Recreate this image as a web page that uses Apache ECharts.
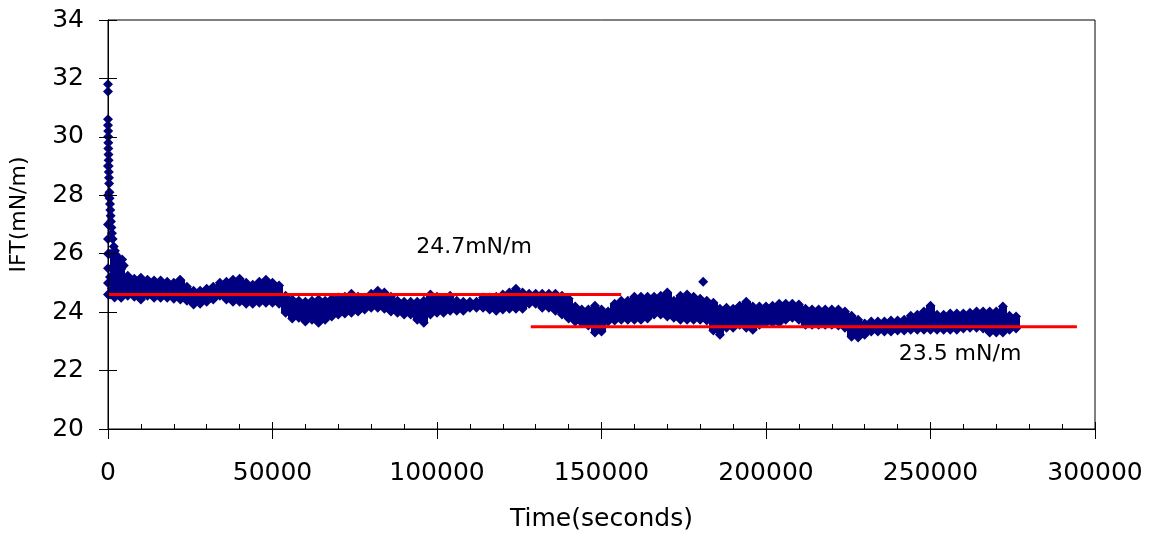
<!DOCTYPE html>
<html><head><meta charset="utf-8">
<script src="https://cdn.jsdelivr.net/npm/echarts@6/dist/echarts.min.js"></script>
<style>html,body{margin:0;padding:0;background:#fff}#c{width:1151px;height:537px}</style>
</head><body><div id="c"></div>
<script>
// ---- data ----
const timeSec = [2000,4000,6000,8000,10000,12000,14000,16000,18000,20000,
22000,24000,26000,28000,30000,32000,34000,36000,38000,40000,
42000,44000,46000,48000,50000,52000,54000,56000,58000,60000,
62000,64000,66000,68000,70000,72000,74000,76000,78000,80000,
82000,84000,86000,88000,90000,92000,94000,96000,98000,100000,
102000,104000,106000,108000,110000,112000,114000,116000,118000,120000,
122000,124000,126000,128000,130000,132000,134000,136000,138000,140000,
142000,144000,146000,148000,150000,152000,154000,156000,158000,160000,
162000,164000,166000,168000,170000,172000,174000,176000,178000,180000,
182000,184000,186000,188000,190000,192000,194000,196000,198000,200000,
202000,204000,206000,208000,210000,212000,214000,216000,218000,220000,
222000,224000,226000,228000,230000,232000,234000,236000,238000,240000,
242000,244000,246000,248000,250000,252000,254000,256000,258000,260000,
262000,264000,266000,268000,270000,272000,274000,276000];
const upperIFT = [26.00,25.48,25.25,25.14,25.18,25.11,25.08,25.08,25.04,25.01,
25.08,24.87,24.73,24.73,24.80,24.87,25.01,25.04,25.11,25.14,
25.01,24.94,25.04,25.11,25.01,24.91,24.56,24.43,24.39,24.36,
24.39,24.43,24.39,24.46,24.50,24.53,24.63,24.53,24.46,24.63,
24.73,24.67,24.53,24.39,24.36,24.36,24.36,24.39,24.60,24.53,
24.46,24.56,24.39,24.36,24.36,24.36,24.50,24.50,24.53,24.60,
24.67,24.80,24.67,24.63,24.63,24.63,24.63,24.63,24.56,24.46,
24.19,24.09,24.09,24.22,24.09,24.02,24.29,24.39,24.39,24.53,
24.53,24.53,24.53,24.56,24.67,24.39,24.56,24.60,24.53,24.46,
24.39,24.32,24.12,24.15,24.12,24.22,24.36,24.19,24.19,24.19,
24.22,24.29,24.29,24.29,24.26,24.12,24.09,24.09,24.09,24.09,
24.09,24.02,23.88,23.74,23.61,23.68,23.68,23.68,23.71,23.71,
23.74,23.88,23.91,24.02,24.22,23.91,23.91,23.95,23.95,23.95,
23.98,24.02,24.02,24.02,24.02,24.19,23.88,23.85];
const lowerIFT = [24.50,24.49,24.56,24.53,24.43,24.56,24.49,24.49,24.49,24.46,
24.43,24.39,24.26,24.29,24.36,24.43,24.56,24.43,24.36,24.36,
24.29,24.29,24.32,24.32,24.32,24.29,23.98,23.78,23.81,23.68,
23.74,23.64,23.74,23.85,23.92,23.95,23.98,24.02,24.09,24.15,
24.15,24.12,24.02,23.98,23.92,23.92,23.74,23.64,23.92,23.98,
23.98,24.05,24.05,24.05,24.15,24.15,24.15,24.09,24.05,24.09,
24.12,24.12,24.12,24.29,24.29,24.15,24.15,24.05,23.92,23.78,
23.68,23.64,23.54,23.30,23.34,23.68,23.71,23.74,23.74,23.74,
23.74,23.78,23.92,23.92,23.85,23.81,23.74,23.74,23.74,23.74,
23.71,23.37,23.23,23.47,23.47,23.57,23.47,23.40,23.57,23.64,
23.64,23.64,23.74,23.81,23.74,23.57,23.57,23.57,23.57,23.57,
23.54,23.47,23.16,23.13,23.23,23.34,23.34,23.34,23.34,23.37,
23.37,23.40,23.40,23.40,23.40,23.40,23.40,23.40,23.40,23.44,
23.47,23.47,23.44,23.30,23.30,23.30,23.40,23.44];
// early fast decay (first seconds of the measurement)
const spikeTime = [0,0,0,0,50,50,100,100,150,200,200,250,300,350,450,500,600,700,800,900,
1050,1200,1400,1750,2100,2500,3000,3500,4300,4800,
0,0,0,0,0,0,0,0,600,600,600,1200,1200];
const spikeIFT = [31.80,31.55,30.60,30.40,30.20,30.00,29.80,29.60,29.40,29.20,29.00,28.80,28.60,28.40,28.10,27.90,27.70,27.50,27.30,27.10,
26.90,26.70,26.50,26.25,26.10,25.95,25.85,25.75,25.80,25.60,
29.00,28.00,27.00,26.50,26.00,25.50,25.00,24.60,26.00,25.20,24.60,25.50,24.80];
const outlierTime = [21900, 180900];
const outlierIFT = [25.11, 25.04];
// red average lines
const fit1Time = [0, 156000];
const fit1IFT = [24.6, 24.6];
const fit2Time = [128500, 294500];
const fit2IFT = [23.5, 23.5];
const fit1Label = '24.7mN/m';
const fit2Label = '23.5 mN/m';
// axes
const xTickValues = [0, 50000, 100000, 150000, 200000, 250000, 300000];
const yTickValues = [20, 22, 24, 26, 28, 30, 32, 34];

const pairs = (xs, ys) => xs.map((x, i) => [x, ys[i]]);
const NAVY = '#000080';
const FONT = '"DejaVu Sans", sans-serif';

const chart = echarts.init(document.getElementById('c'), null, {renderer: 'canvas'});
const axisCommon = {
  type: 'value', gridIndex: 0,
  axisLine: {show: true, lineStyle: {color: '#000', width: 1}},
  splitLine: {show: false}, z: 10
};
const dotStyle = {color: NAVY, opacity: 1, borderWidth: 0};
const dots = (data) => ({type: 'scatter', z: 4, symbol: 'diamond', symbolSize: 10,
  itemStyle: dotStyle, emphasis: {disabled: true}, silent: true, data: data});
chart.setOption({
  animation: false,
  backgroundColor: '#fff',
  grid: {left: 108, top: 20, right: 56, bottom: 107, show: true, borderColor: '#000', borderWidth: 1},
  xAxis: [
    Object.assign({}, axisCommon, {
      min: xTickValues[0], max: xTickValues[xTickValues.length - 1], interval: 50000,
      axisTick: {show: true, inside: false, length: 10, lineStyle: {color: '#000'}},
      axisLabel: {fontFamily: FONT, fontSize: 25, color: '#000', margin: 32,
        formatter: v => (xTickValues.indexOf(v) >= 0 ? String(v) : '')},
      name: 'Time(seconds)', nameLocation: 'middle', nameGap: 78,
      nameTextStyle: {fontFamily: FONT, fontSize: 25, color: '#000'}
    }),
    Object.assign({}, axisCommon, {
      position: 'bottom',
      min: xTickValues[0], max: xTickValues[xTickValues.length - 1], interval: 50000,
      axisTick: {show: true, inside: true, length: 7, lineStyle: {color: '#000'}},
      minorTick: {show: true, splitNumber: 5, length: 5, lineStyle: {color: '#000'}},
      axisLabel: {show: false}
    })
  ],
  yAxis: [
    Object.assign({}, axisCommon, {
      min: yTickValues[0], max: yTickValues[yTickValues.length - 1], interval: 2,
      axisTick: {show: true, inside: false, length: 9, lineStyle: {color: '#000'}},
      axisLabel: {fontFamily: FONT, fontSize: 25, color: '#000', margin: 24,
        formatter: v => (yTickValues.indexOf(v) >= 0 ? String(v) : '')},
      name: 'IFT(mN/m)', nameLocation: 'middle', nameGap: 78,
      nameTextStyle: {fontFamily: FONT, fontSize: 22, color: '#000', padding: [0, 0, 0, 20]}
    }),
    Object.assign({}, axisCommon, {
      position: 'left',
      min: yTickValues[0], max: yTickValues[yTickValues.length - 1], interval: 2,
      axisTick: {show: true, inside: true, length: 9, lineStyle: {color: '#000'}},
      axisLabel: {show: false}
    })
  ],
  series: [
    // solid body of the dense point cloud: one narrow column per sample time,
    // spanning from the lower envelope to the upper envelope
    {type: 'candlestick', z: 2, silent: true, barWidth: 8,
     encode: {x: 0, y: [1, 2, 3, 4]},
     itemStyle: {color: NAVY, color0: NAVY, borderColor: NAVY, borderColor0: NAVY, borderWidth: 1},
     emphasis: {disabled: true},
     data: timeSec.map((t, i) => [t, lowerIFT[i], upperIFT[i], lowerIFT[i], upperIFT[i]])},
    dots(pairs(timeSec, upperIFT)),
    dots(pairs(timeSec, lowerIFT)),
    dots(pairs(spikeTime, spikeIFT)),
    dots(pairs(outlierTime, outlierIFT)),
    {type: 'line', z: 5, symbol: 'none', silent: true, lineStyle: {color: '#ff0000', width: 3},
     data: pairs(fit1Time, fit1IFT)},
    {type: 'line', z: 5, symbol: 'none', silent: true, lineStyle: {color: '#ff0000', width: 3},
     data: pairs(fit2Time, fit2IFT)}
  ],
  graphic: [
    {type: 'text', x: 474, y: 247, z: 100,
     style: {text: fit1Label, fill: '#000', font: '22px ' + FONT, textAlign: 'center', textVerticalAlign: 'middle', verticalAlign: 'middle'}},
    {type: 'text', x: 960, y: 354, z: 100,
     style: {text: fit2Label, fill: '#000', font: '22px ' + FONT, textAlign: 'center', textVerticalAlign: 'middle', verticalAlign: 'middle'}}
  ]
});
</script></body></html>
